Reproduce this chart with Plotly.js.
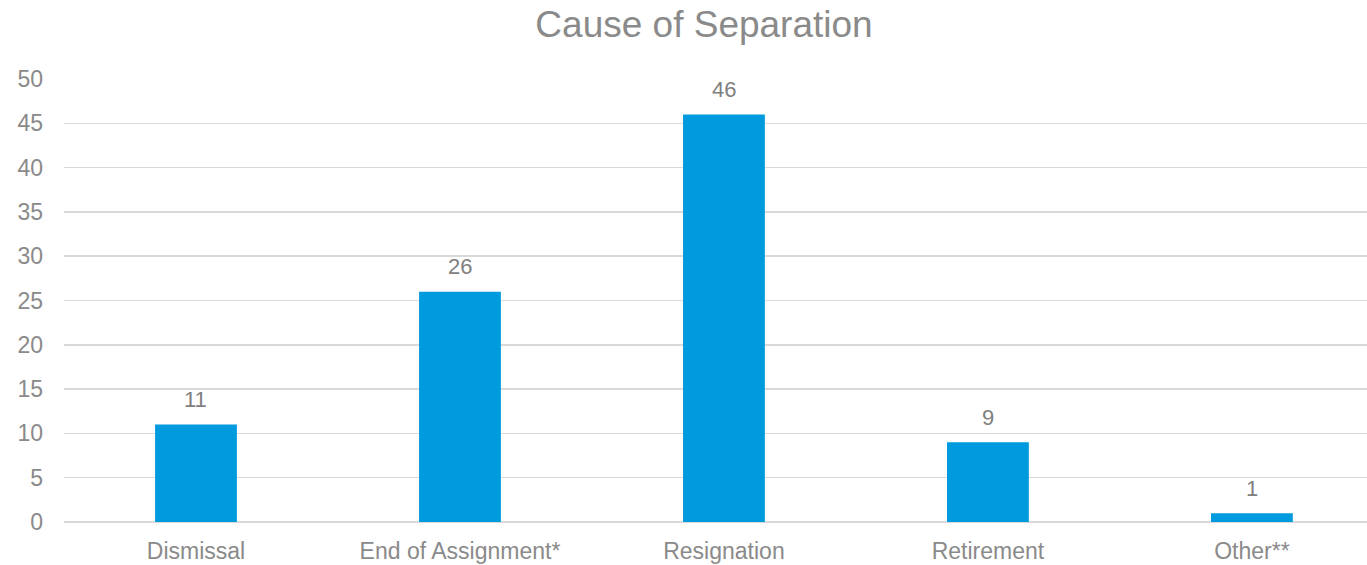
<!DOCTYPE html>
<html><head><meta charset="utf-8">
<script src="https://cdn.plot.ly/plotly-3.0.1.min.js"></script>
<style>html,body{margin:0;padding:0;background:#fff}#c{width:1367px;height:565px}</style>
</head><body><div id="c"></div>
<script>
const categories = ["Dismissal", "End of Assignment*", "Resignation", "Retirement", "Other**"];
const counts = [11, 26, 46, 9, 1];
const yTicks = [0, 5, 10, 15, 20, 25, 30, 35, 40, 45, 50];

const grey = '#8a8a8a';
const fam = 'Liberation Sans, Arial, sans-serif';
const trace = {
  type: 'bar', x: categories, y: counts,
  marker: {color: '#009ADE'}, width: 0.31,
  hoverinfo: 'none'
};
const annotations = categories.map((c, i) => ({
  x: c, y: counts[i], xref: 'x', yref: 'y', text: String(counts[i]),
  showarrow: false, yshift: 25, font: {family: fam, size: 22, color: '#808080'}
}));
const layout = {
  width: 1367, height: 565,
  margin: {l: 64, r: 0, t: 79, b: 43},
  paper_bgcolor: '#fff', plot_bgcolor: '#fff',
  showlegend: false,
  title: {text: 'Cause of Separation', x: 0.515, xanchor: 'center', y: 0.957, yanchor: 'middle',
    font: {family: fam, size: 37, color: grey}},
  xaxis: {type: 'category', range: [-0.5, 4.436], showgrid: false, zeroline: false,
    showline: false, ticks: '', ticklabelstandoff: 13,
    tickfont: {family: fam, size: 23, color: grey}},
  yaxis: {range: [0, 50], tickvals: yTicks, showgrid: true, gridcolor: '#d9d9d9', gridwidth: 1.5,
    zeroline: true, zerolinecolor: '#d9d9d9', zerolinewidth: 1.5, showline: false, ticks: '',
    ticklabelstandoff: 20,
    tickfont: {family: fam, size: 23, color: grey}},
  annotations: annotations,
  bargap: 0.69
};
Plotly.newPlot('c', [trace], layout, {displayModeBar: false, staticPlot: true});
</script></body></html>
